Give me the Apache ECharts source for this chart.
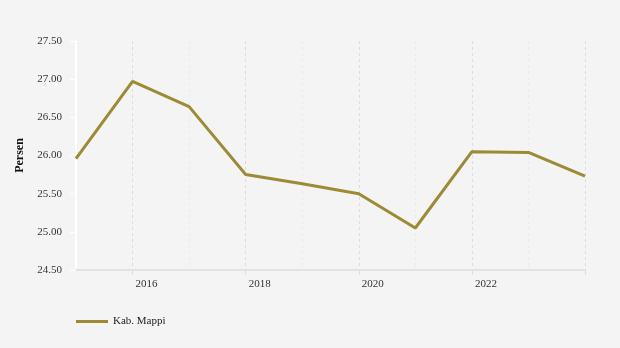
<!DOCTYPE html>
<html>
<head>
<meta charset="utf-8">
<script src="https://cdn.jsdelivr.net/npm/echarts@6/dist/echarts.min.js"></script>
<style>html,body{margin:0;padding:0;background:#f4f4f4;}#c{width:620px;height:348px;}</style>
</head>
<body>
<div id="c"></div>
<script>
const years = ['2015','2016','2017','2018','2019','2020','2021','2022','2023','2024'];
const mappi = [25.96, 26.97, 26.64, 25.75, 25.63, 25.50, 25.05, 26.05, 26.04, 25.73];
const yTicks = [24.5, 27.5, 0.5];
const seriesName = 'Kab. Mappi';

const font = '"Liberation Serif", "DejaVu Serif", serif';
const chart = echarts.init(document.getElementById('c'), null, {renderer: 'canvas'});
chart.setOption({
  backgroundColor: '#f4f4f4',
  animation: false,
  grid: {left: 76, right: 35, top: 41, bottom: 78, containLabel: false},
  legend: {
    left: 71, top: 311,
    icon: 'rect', itemWidth: 32, itemHeight: 3, itemGap: 20,
    textStyle: {fontFamily: font, fontSize: 11, color: '#222'},
    data: [seriesName]
  },
  xAxis: [{
    type: 'category', data: years, boundaryGap: false,
    axisLine: {show: true, lineStyle: {color: '#e2e2e2', width: 2}},
    axisTick: {show: true, length: 5, interval: (i) => i % 2 === 1, lineStyle: {color: '#dedede'}},
    axisLabel: {interval: (i) => i % 2 === 1 && i < years.length - 1, align: 'left', margin: 9, padding: [0,0,0,3],
      fontFamily: font, fontSize: 11, color: '#333'},
    splitLine: {show: true, interval: (i) => i % 2 === 1, lineStyle: {color: '#dcdcdc', type: [3, 3], width: 1}}
  }, {
    type: 'category', data: years, boundaryGap: false, position: 'bottom',
    axisLine: {show: false}, axisTick: {show: false}, axisLabel: {show: false},
    splitLine: {show: true, interval: (i) => i % 2 === 0 && i > 0, lineStyle: {color: '#ebebeb', type: [3, 3], width: 1}}
  }],
  yAxis: {
    type: 'value', min: yTicks[0], max: yTicks[1], interval: yTicks[2],
    name: 'Persen', nameLocation: 'middle', nameGap: 46,
    nameTextStyle: {fontFamily: font, fontSize: 12, fontWeight: 'bold', color: '#111'},
    axisLine: {show: true, lineStyle: {color: '#ffffff', width: 2}},
    axisTick: {show: true, length: 6, lineStyle: {color: '#ffffff', width: 1}},
    axisLabel: {margin: 14, fontFamily: font, fontSize: 11, color: '#333',
      formatter: (v) => v.toFixed(2)},
    splitLine: {show: false}
  },
  series: [{
    name: seriesName, type: 'line', data: mappi, xAxisIndex: 0,
    showSymbol: false, symbol: 'none',
    lineStyle: {color: '#9c8b34', width: 3},
    itemStyle: {color: '#9c8b34'}
  }]
});
</script>
</body>
</html>
